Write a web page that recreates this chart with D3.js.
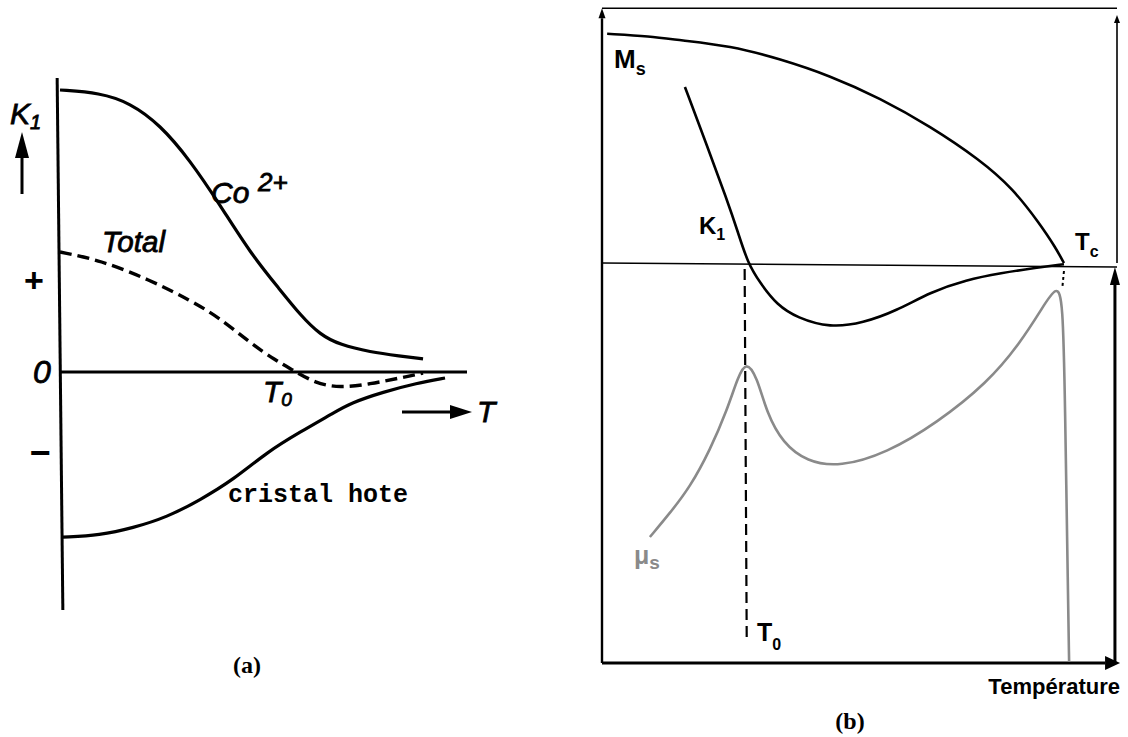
<html>
<head>
<meta charset="utf-8">
<script src="https://d3js.org/d3.v7.min.js"></script>
<style>
body { margin: 0; background: #fff; }
text { fill: #000; }
.hand { font-family: "Liberation Sans", Arial, sans-serif; font-style: italic; stroke: #000; stroke-width: 0.8; }
.bold { font-family: "Liberation Sans", Arial, sans-serif; font-weight: bold; }
</style>
</head>
<body>
<svg id="chart" width="1128" height="737"></svg>
<script>

// panel (a) : T from 0 to 100, K1 in arbitrary units
var co2   = [[0,70.5],[9.8,69.8],[17.2,67.3],[24.6,61.8],[31.9,53],[39.3,41.8],[46.7,29.8],[54.1,20.5],[59,14.3],[63.9,9.3],[68.8,6.8],[76.2,5],[83.5,4],[89.2,3.3]]
var total = [[0,30],[9.8,28],[22.1,23],[31.9,18],[39.3,13.5],[46.7,7.3],[52.8,3],[57.2,0.5],[62.7,-2.8],[68.8,-4],[76.2,-3],[83.5,-1.5],[89.2,-0.3]]
var hote  = [[0.7,-41.3],[9.8,-40.8],[17.9,-39],[26.3,-36.3],[34.4,-32],[42.5,-27],[50.9,-20],[59,-15],[67.1,-10.3],[71.3,-7.8],[79.4,-5],[87.7,-2.8],[94.6,-1.5]]

// panel (b)
var ms  = [[1,57.3],[9.3,56.7],[15.1,55.7],[24.9,54.3],[34.6,51],[44.3,46.8],[54,41.2],[63.7,34.2],[73.4,25.8],[79.8,18.6],[85,9.8],[88,4],[89.7,0]]
var k1  = [[16.1,44],[20.2,30],[24.3,15.7],[26.4,7.7],[28.3,0],[30.7,-5],[34,-10.5],[37.9,-13.7],[44.3,-16.2],[50.7,-15],[57.1,-12],[63.9,-7.2],[70.7,-4.2],[77.5,-2.5],[84.3,-1.2],[89.7,-0.3]]
var mus = [[9.3,-68.5],[13.2,-62.5],[17.1,-56],[21,-46.7],[24.3,-36.7],[26.4,-28.5],[28,-24.5],[30.1,-28.5],[32,-37.5],[35.1,-45],[39.8,-49.7],[46.2,-51],[55.3,-47.5],[65,-40],[74.8,-30],[81.2,-20],[85.6,-11],[88.3,-5.5],[89.5,-9.2],[89.9,-34.2],[90.5,-84.2],[90.7,-99.7]]
var t0 = 28, tc = 89.7

var svg = d3.select("#chart")

var xa = d3.scaleLinear().domain([0, 100]).range([60, 467])
var ya = d3.scaleLinear().domain([-60, 70]).range([612, 92])
var xb = d3.scaleLinear().domain([0, 100]).range([602, 1117])
var yb = d3.scaleLinear().domain([-100, 64]).range([663, 7])

var lineA = d3.line().x(d => xa(d[0])).y(d => ya(d[1])).curve(d3.curveBasis)
var lineB = d3.line().x(d => xb(d[0])).y(d => yb(d[1])).curve(d3.curveBasis)

function arrow(g, x1, y1, x2, y2, len, half, w) {
	// shaft then a filled triangular head pointing to (x2,y2)
	var a = Math.atan2(y2 - y1, x2 - x1)
	var bx = x2 - len * Math.cos(a), by = y2 - len * Math.sin(a)
	g.append("line").attr("x1", x1).attr("y1", y1).attr("x2", bx).attr("y2", by)
		.attr("stroke", "#000").attr("stroke-width", w)
	g.append("path")
		.attr("d", "M" + x2 + "," + y2 +
			"L" + (bx + half * Math.sin(a)) + "," + (by - half * Math.cos(a)) +
			"L" + (bx - half * Math.sin(a)) + "," + (by + half * Math.cos(a)) + "Z")
		.attr("fill", "#000")
}

// ---------- (a) ----------
var ga = svg.append("g")

ga.append("line")
	.attr("x1", xa(-0.7)).attr("y1", ya(73.5)).attr("x2", xa(0.7)).attr("y2", ya(-59.5))
	.attr("stroke", "#000").attr("stroke-width", 3)
ga.append("line")
	.attr("x1", xa(0)).attr("y1", ya(0)).attr("x2", xa(100)).attr("y2", ya(0))
	.attr("stroke", "#000").attr("stroke-width", 3)

ga.append("path").datum(co2).attr("d", lineA)
	.attr("fill", "none").attr("stroke", "#000").attr("stroke-width", 3.2)
ga.append("path").datum(total).attr("d", lineA)
	.attr("fill", "none").attr("stroke", "#000").attr("stroke-width", 3.4)
	.attr("stroke-dasharray", "12,6")
ga.append("path").datum(hote).attr("d", lineA)
	.attr("fill", "none").attr("stroke", "#000").attr("stroke-width", 3.2)

// K1 arrow on the left
arrow(ga, 22, 194, 22, 132, 26, 7, 3)
ga.append("text").attr("class", "hand").attr("x", 10).attr("y", 124)
	.attr("font-size", 30).text("K")
	.append("tspan").attr("font-size", 20).attr("dy", 5).text("1")

ga.append("text").attr("class", "bold").attr("x", 34).attr("y", 280).attr("dy", "0.35em")
	.attr("text-anchor", "middle").attr("font-size", 34).text("+")
ga.append("text").attr("class", "hand").attr("x", 42).attr("y", 383)
	.attr("text-anchor", "middle").attr("font-size", 32).text("0")
ga.append("text").attr("class", "bold").attr("x", 40).attr("y", 452).attr("dy", "0.35em")
	.attr("text-anchor", "middle").attr("font-size", 36).text("\u2212")

ga.append("text").attr("class", "hand").attr("x", 211).attr("y", 203)
	.attr("font-size", 30).text("Co")
ga.append("text").attr("class", "hand").attr("x", 258).attr("y", 191)
	.attr("font-size", 26).text("2+")
ga.append("text").attr("class", "hand").attr("x", 102).attr("y", 252)
	.attr("font-size", 30).attr("textLength", 63).attr("lengthAdjust", "spacingAndGlyphs").text("Total")
ga.append("text").attr("class", "hand").attr("x", 263).attr("y", 402)
	.attr("font-size", 30).text("T")
	.append("tspan").attr("font-size", 19).attr("dy", 4).text("0")

arrow(ga, 402, 412, 472, 412, 22, 7, 3)
ga.append("text").attr("class", "hand").attr("x", 477).attr("y", 422)
	.attr("font-size", 30).text("T")

ga.append("text").attr("x", 228).attr("y", 502)
	.attr("font-family", "'Liberation Mono', 'Courier New', monospace").attr("font-weight", "bold")
	.attr("font-size", 25).text("cristal hote")

ga.append("text").attr("x", 247).attr("y", 673).attr("text-anchor", "middle")
	.attr("font-family", "'Liberation Serif', 'Times New Roman', serif").attr("font-weight", "bold")
	.attr("font-size", 24).text("(a)")

// ---------- (b) ----------
var gb = svg.append("g")

// frame
gb.append("line").attr("x1", xb(0)).attr("y1", yb(63.7)).attr("x2", xb(100)).attr("y2", yb(63.7))
	.attr("stroke", "#000").attr("stroke-width", 1.6)
arrow(gb, xb(0), yb(-100), xb(0), yb(63.7), 10, 3.5, 2.4)
arrow(gb, xb(100), yb(0), xb(100), yb(62), 8, 3, 1.6)
arrow(gb, xb(0), yb(-100), xb(100.6), yb(-100), 15, 7, 3)
arrow(gb, xb(99.6), yb(-100), xb(99.6), yb(-1), 18, 5, 3)

// zero line
gb.append("line").attr("x1", xb(0)).attr("y1", yb(0)).attr("x2", xb(100)).attr("y2", yb(-1))
	.attr("stroke", "#000").attr("stroke-width", 1.6)

// T0 and Tc markers
gb.append("line").attr("x1", xb(t0 - 0.3)).attr("y1", yb(-1.5)).attr("x2", xb(t0 + 0.1)).attr("y2", yb(-94))
	.attr("stroke", "#000").attr("stroke-width", 2.2).attr("stroke-dasharray", "11,6")
gb.append("line").attr("x1", xb(tc)).attr("y1", yb(-2)).attr("x2", xb(tc - 0.3)).attr("y2", yb(-6))
	.attr("stroke", "#000").attr("stroke-width", 2).attr("stroke-dasharray", "3,3")

gb.append("path").datum(ms).attr("d", lineB)
	.attr("fill", "none").attr("stroke", "#000").attr("stroke-width", 2.6)
gb.append("path").datum(k1).attr("d", lineB)
	.attr("fill", "none").attr("stroke", "#000").attr("stroke-width", 2.6)
gb.append("path").datum(mus).attr("d", lineB)
	.attr("fill", "none").attr("stroke", "#8a8a8a").attr("stroke-width", 2.6)

gb.append("text").attr("class", "bold").attr("x", 614).attr("y", 68)
	.attr("font-size", 26).text("M")
	.append("tspan").attr("font-size", 18).attr("dy", 7).text("s")
gb.append("text").attr("class", "bold").attr("x", 699).attr("y", 234)
	.attr("font-size", 24).text("K")
	.append("tspan").attr("font-size", 16).attr("dy", 6).text("1")
gb.append("text").attr("class", "bold").attr("x", 1075).attr("y", 250)
	.attr("font-size", 24).text("T")
	.append("tspan").attr("font-size", 16).attr("dy", 7).text("c")
gb.append("text").attr("class", "bold").attr("x", 757).attr("y", 641)
	.attr("font-size", 25).text("T")
	.append("tspan").attr("font-size", 16).attr("dy", 9).text("0")
gb.append("text").attr("class", "bold").attr("x", 634).attr("y", 564)
	.attr("font-size", 25).style("fill", "#8a8a8a").text("\u03bc")
	.append("tspan").attr("font-size", 19).attr("dy", 5).text("s")

gb.append("text").attr("class", "bold").attr("x", 1120).attr("y", 694).attr("text-anchor", "end")
	.attr("font-size", 22).text("Température")
gb.append("text").attr("x", 850).attr("y", 729).attr("text-anchor", "middle")
	.attr("font-family", "'Liberation Serif', 'Times New Roman', serif").attr("font-weight", "bold")
	.attr("font-size", 24).text("(b)")

</script>
</body>
</html>
